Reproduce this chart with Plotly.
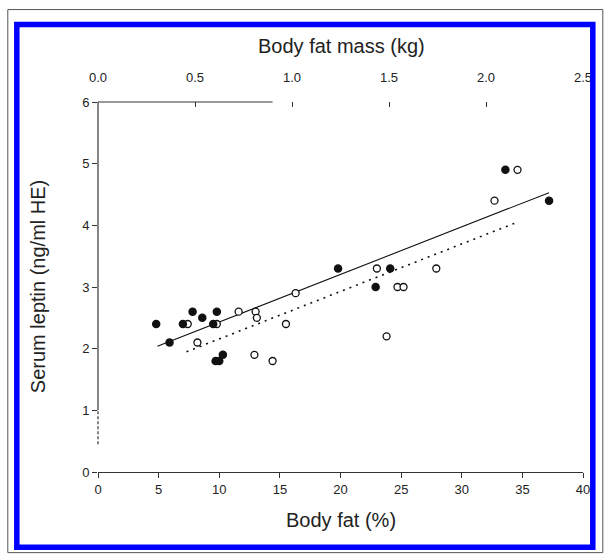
import plotly.graph_objects as go

# ---- data ----
filled_x = [4.8, 5.9, 7.0, 7.8, 8.6, 9.5, 9.8, 9.7, 10.0, 10.3, 19.8, 22.9, 24.1, 33.6, 37.2]
filled_y = [2.4, 2.1, 2.4, 2.6, 2.5, 2.4, 2.6, 1.8, 1.8, 1.9, 3.3, 3.0, 3.3, 4.9, 4.4]

open_x = [7.4, 8.2, 9.8, 11.6, 13.0, 13.1, 12.9, 14.4, 15.5, 16.3, 23.0, 23.8, 24.7, 25.2, 27.9, 32.7, 34.6]
open_y = [2.4, 2.1, 2.4, 2.6, 2.6, 2.5, 1.9, 1.8, 2.4, 2.9, 3.3, 2.2, 3.0, 3.0, 3.3, 4.4, 4.9]

fit_filled_x = [4.9, 37.2]
fit_filled_y = [2.04, 4.53]
fit_open_x = [7.3, 34.7]
fit_open_y = [1.95, 4.06]

bottom_ticks = [0, 5, 10, 15, 20, 25, 30, 35, 40]
top_ticks = [0.0, 0.5, 1.0, 1.5, 2.0, 2.5]
top_tick_text = ["0.0", "0.5", "1.0", "1.5", "2.0", "2.5"]
y_ticks = [0, 1, 2, 3, 4, 5, 6]

x_title = "Body fat (%)"
x2_title = "Body fat mass (kg)"
y_title = "Serum leptin (ng/ml HE)"

# ---- layout geometry (pixels) ----
W, H = 608, 560
L, R, T, B = 97.7, 582.7, 102.0, 472.3
PW, PH = R - L, B - T

def px(x):
    return (x - L) / PW

def py(y):
    return (B - y) / PH

FONT = "Liberation Sans, Arial, sans-serif"
INK = "#222222"
AX = "#333333"

fig = go.Figure()

fig.add_trace(go.Scatter(x=fit_filled_x, y=fit_filled_y, mode="lines",
                         line=dict(color="#111111", width=1.1), hoverinfo="skip"))
fig.add_trace(go.Scatter(x=fit_open_x, y=fit_open_y, mode="lines",
                         line=dict(color="#111111", width=1.6, dash="2px,5px"), hoverinfo="skip"))
fig.add_trace(go.Scatter(x=open_x, y=open_y, mode="markers",
                         marker=dict(symbol="circle", size=7, color="white",
                                     line=dict(color="#111111", width=1.3))))
fig.add_trace(go.Scatter(x=filled_x, y=filled_y, mode="markers",
                         marker=dict(symbol="circle", size=8.5, color="#111111",
                                     line=dict(width=0))))
# dummy trace so the top axis exists
fig.add_trace(go.Scatter(x=[0], y=[-1], xaxis="x2", yaxis="y", mode="markers",
                         marker=dict(opacity=0), hoverinfo="skip"))

tickfont = dict(family=FONT, size=13, color=INK)

fig.update_layout(
    width=W, height=H, autosize=False,
    margin=dict(l=L, r=W - R, t=T, b=H - B, pad=0),
    paper_bgcolor="white", plot_bgcolor="white",
    showlegend=False,
    xaxis=dict(range=[0, 40], tickvals=bottom_ticks, ticks="outside", ticklen=5,
               tickcolor=AX, tickwidth=1, showline=True, linecolor=AX, linewidth=1.2,
               showgrid=False, zeroline=False, tickfont=tickfont),
    xaxis2=dict(range=[0, 2.5], overlaying="x", side="top", anchor="y",
                tickvals=top_ticks, ticktext=top_tick_text, ticks="inside", ticklen=5,
                tickcolor=AX, tickwidth=1, showline=False, showgrid=False, zeroline=False,
                tickfont=tickfont, ticklabelstandoff=16),
    yaxis=dict(range=[0, 6], tickvals=y_ticks, ticks="outside", ticklen=5,
               tickcolor=AX, tickwidth=1, showline=False, showgrid=False, zeroline=False,
               tickfont=tickfont),
)

shapes = []
# y axis line (solid part + broken lower part)
shapes.append(dict(type="line", xref="paper", yref="y", x0=0, x1=0, y0=1, y1=6,
                   line=dict(color=AX, width=1.2)))
shapes.append(dict(type="line", xref="paper", yref="y", x0=0, x1=0, y0=0.45, y1=1,
                   line=dict(color=AX, width=1.2, dash="3px,2px")))
# top axis line (partial)
shapes.append(dict(type="line", xref="x2", yref="paper", x0=0, x1=0.9, y0=1, y1=1,
                   line=dict(color=AX, width=1.2)))
# blue frame
shapes.append(dict(type="rect", xref="paper", yref="paper",
                   x0=px(16.5), x1=px(592.5), y0=py(547.5), y1=py(24.5),
                   line=dict(color="#0000ff", width=5.5)))
# outer thin frame
shapes.append(dict(type="rect", xref="paper", yref="paper",
                   x0=px(7.5), x1=px(602.5), y0=py(553), y1=py(9.5),
                   line=dict(color="#555555", width=1)))
fig.update_layout(shapes=shapes)

titlefont = dict(family=FONT, size=20, color=INK)
fig.add_annotation(text=x2_title, xref="paper", yref="paper", x=px(341), y=py(46),
                   xanchor="center", yanchor="middle", showarrow=False, font=titlefont)
fig.add_annotation(text=x_title, xref="paper", yref="paper", x=px(341), y=py(520),
                   xanchor="center", yanchor="middle", showarrow=False, font=titlefont)
fig.add_annotation(text=y_title, xref="paper", yref="paper", x=px(38), y=py(287),
                   xanchor="center", yanchor="middle", showarrow=False, font=titlefont,
                   textangle=-90)

fig.write_html("out.html")
